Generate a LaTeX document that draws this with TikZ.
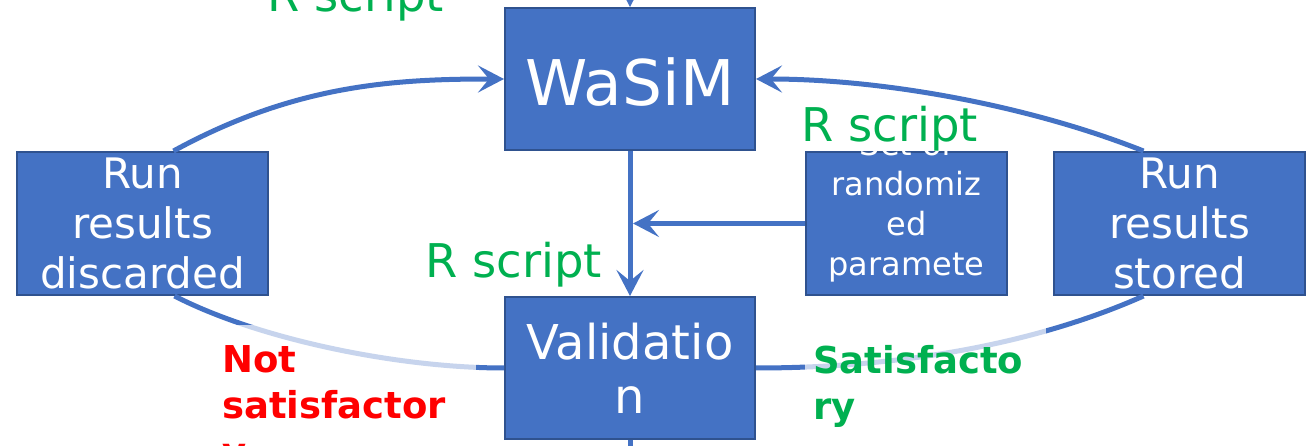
\documentclass[tikz,border=0pt]{standalone}
\usepackage{fontspec}
\setmainfont{DejaVu Sans}
\usetikzlibrary{arrows.meta,calc}
\definecolor{boxblue}{HTML}{4472C4}
\definecolor{boxedge}{HTML}{2F528F}
\definecolor{rgreen}{HTML}{00B050}
\definecolor{nred}{HTML}{FF0000}
\begin{document}
\begin{tikzpicture}[x=1pt,y=-1pt,
  box/.style={draw=boxedge, line width=2pt, fill=boxblue, text=white, inner sep=0pt},
  conn/.style={draw=boxblue, line width=5pt},
  arr/.style={conn, -{Stealth[length=26pt,width=27pt,inset=11pt]}},
  rlab/.style={text=rgreen, font=\fontsize{46.5}{50}\selectfont, anchor=base west, inner sep=0pt},
  verdict/.style={font=\bfseries\fontsize{37}{46}\selectfont, align=left, anchor=north west, inner sep=0pt},
  veil/.style={fill=white, fill opacity=0.7}
]
\useasboundingbox (0,0) rectangle (1307,446);

% boxes
\node[box, minimum width=250pt, minimum height=142pt, text height=54pt, text depth=0pt,
      font=\fontsize{63}{70}\selectfont] (wasim) at (630,79) {WaSiM};
\node[box, minimum width=250pt, minimum height=142pt, align=center,
      font=\fontsize{48}{54}\selectfont] (val) at (630,368) {Validatio\\n};
\node[box, minimum width=251pt, minimum height=143pt, align=center,
      font=\fontsize{42}{50}\selectfont] (disc) at (142.5,223.5) {Run\\results\\discarded};
\node[box, minimum width=251pt, minimum height=143pt, align=center,
      font=\fontsize{42}{50}\selectfont] (stored) at (1179.5,223.5) {Run\\results\\stored};
\node[box, minimum width=201pt, minimum height=143pt] (params) at (906.5,223.5) {};
\begin{scope}
  \clip (795,141) rectangle (1020,303);
  \node[text=white, inner sep=0pt, align=center,
        font=\fontsize{32}{40}\selectfont] (ptext) at (params.center) {Set of\\randomiz\\ed\\paramete\\rs};
\end{scope}

% free ends
\coordinate (tin) at (630,-40);
\coordinate (bout) at (630,480);

% connectors
\draw[arr] (tin) -- (wasim.north);
\draw[arr] (wasim.south) -- (val.north);
\draw[conn] (val.south) -- (bout);
\draw[arr] (params.west) -- ($(wasim.south |- params.west)+(3,0)$);
\draw[arr] ([xshift=31pt]disc.north) .. controls (294,85) and (393,79) .. (wasim.west);
\draw[arr] ([xshift=-36pt]stored.north) .. controls (1033,107) and (887,79) .. (wasim.east);
\draw[conn] (val.west) .. controls (400,368) and (260,340) .. ([xshift=32pt]disc.south);
\draw[conn] (val.east) .. controls (907,368) and (1040,342) .. ([xshift=-36pt]stored.south);

% label backgrounds
\fill[veil] (215,325) rectangle (476,446);
\fill[veil] (805,325) rectangle (1046,446);

% labels
\node[rlab] (r1) at (267,12) {R script};
\node[rlab] (r2) at (425,278) {R script};
\node[rlab] (r3) at (801,142) {R script};
\node[verdict, text=nred] (nsat) at (222,345) {Not\\satisfactor\\y};
\node[verdict, text=rgreen] (sat) at (813,345) {Satisfacto\\ry};
\end{tikzpicture}
\end{document}
